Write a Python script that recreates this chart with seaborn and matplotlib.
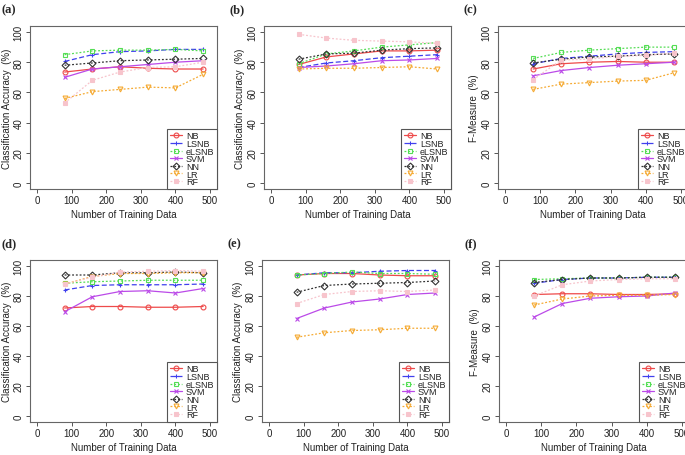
import numpy as np
import pandas as pd
import matplotlib
matplotlib.use("Agg")
import matplotlib.pyplot as plt
import seaborn as sns

train_sizes = [80, 160, 240, 320, 400, 480]
methods = ["NB", "LSNB", "eLSNB", "SVM", "NN", "LR", "RF"]
panel_labels = ["(a)", "(b)", "(c)", "(d)", "(e)", "(f)"]
y_labels = ["Classification Accuracy  (%)", "Classification Accuracy  (%)", "F-Measure  (%)",
            "Classification Accuracy  (%)", "Classification Accuracy  (%)", "F-Measure  (%)"]
x_label = "Number of Training Data"
x_ticks = [0, 100, 200, 300, 400, 500]
y_ticks = [0, 20, 40, 60, 80, 100]

# panel (a)
a_NB = [73.5, 75.5, 77, 76, 75.5, 75.5]
a_LSNB = [80.5, 85, 87, 87.5, 88.5, 88.5]
a_eLSNB = [85, 87.5, 88, 88, 88.5, 87.5]
a_SVM = [70, 75.5, 77, 78.5, 80, 81]
a_NN = [78, 79.5, 81, 81.5, 82, 82.5]
a_LR = [56, 60.5, 62, 63.5, 63, 72]
a_RF = [53, 68, 73.5, 76.5, 77, 80]
# panel (b)
b_NB = [78.5, 83.5, 85.5, 87.5, 87.5, 88]
b_LSNB = [76.5, 79.5, 81, 83, 84, 85]
b_eLSNB = [79, 85.5, 87.5, 90, 91.5, 93]
b_SVM = [76.5, 77.5, 79, 81, 81.5, 82.5]
b_NN = [82, 85.5, 86, 88, 89, 89.5]
b_LR = [75.5, 76, 76, 76.5, 77, 75.5]
b_RF = [98.5, 96, 94.5, 94, 93.5, 92.5]
# panel (c)
c_NB = [75.5, 79, 80, 80.5, 80, 80]
c_LSNB = [79, 82.5, 84, 85.5, 86.5, 87]
c_eLSNB = [82.5, 86.5, 88, 89, 90, 90]
c_SVM = [71, 74.5, 76.5, 78, 79, 80]
c_NN = [79.5, 82, 83.5, 84, 85, 85.5]
c_LR = [62, 65.5, 66.5, 67.5, 68, 73]
c_RF = [68.5, 81.5, 82, 84, 84.5, 86]
# panel (d)
d_NB = [72, 73, 73, 72.5, 72.5, 73]
d_LSNB = [84, 87, 87.5, 87.5, 87.5, 88]
d_eLSNB = [88.5, 89.5, 90, 90.5, 90.5, 90.5]
d_SVM = [69.5, 79.5, 83, 83.5, 82, 85]
d_NN = [94, 94, 95.5, 95.5, 96, 95.5]
d_LR = [88, 93, 95, 95, 95.5, 95.5]
d_RF = [88, 92.5, 96, 96.5, 97, 96.5]
# panel (e)
e_NB = [94, 95, 95, 94, 93.5, 93.5]
e_LSNB = [94, 95.5, 95.5, 96.5, 97, 97]
e_eLSNB = [94, 95, 96, 95, 95, 94.5]
e_SVM = [65, 72, 76, 78, 81, 82]
e_NN = [82.5, 87, 88, 88.5, 89, 90]
e_LR = [52.5, 55.5, 57, 57.5, 58.5, 58.5]
e_RF = [75, 81, 83, 83.5, 83, 84]
# panel (f)
f_NB = [81, 81.5, 81.5, 81, 81, 81.5]
f_LSNB = [88.5, 91, 92, 92, 92.5, 92.5]
f_eLSNB = [91, 91.5, 92, 92, 92.5, 92.5]
f_SVM = [66, 75, 78.5, 79.5, 80, 82]
f_NN = [89, 91, 92, 92, 92.5, 92.5]
f_LR = [74, 78, 80, 80.5, 80.5, 81]
f_RF = [80, 87.5, 90, 91, 91.5, 91.5]

panels = [
    [a_NB, a_LSNB, a_eLSNB, a_SVM, a_NN, a_LR, a_RF],
    [b_NB, b_LSNB, b_eLSNB, b_SVM, b_NN, b_LR, b_RF],
    [c_NB, c_LSNB, c_eLSNB, c_SVM, c_NN, c_LR, c_RF],
    [d_NB, d_LSNB, d_eLSNB, d_SVM, d_NN, d_LR, d_RF],
    [e_NB, e_LSNB, e_eLSNB, e_SVM, e_NN, e_LR, e_RF],
    [f_NB, f_LSNB, f_eLSNB, f_SVM, f_NN, f_LR, f_RF],
]

colors = ["#ee4a4a", "#4040ee", "#55dd55", "#bb4ae8", "#333333", "#f5aa33", "#f7c4cc"]
dashes = [(None, None), (4, 2), (1.5, 1.5), (None, None), (1.5, 1.5), (1.5, 1.5), (1.5, 1.5)]
markers = ["o", "+", "s", "x", "D", "v", "s"]
mfill = [False, True, False, True, False, False, True]

sns.set_style("white")
plt.rcParams["font.family"] = ["Liberation Sans", "DejaVu Sans"]

fig = plt.figure(figsize=(6.85, 4.56), dpi=100)
lefts = [[30, 264, 498], [30, 262, 499]]
tops = [27, 261]
bots = [190, 423]
widths = [187, 187, 190]
W, H = 685, 456
TXT = "#222222"

for i in range(6):
    r, c = divmod(i, 3)
    l = lefts[r][c]
    wpx = widths[c]
    ax = fig.add_axes([l / W, 1 - bots[r] / H, wpx / W, (bots[r] - tops[r]) / H])
    for j, m in enumerate(methods):
        df = pd.DataFrame({"x": train_sizes, "y": panels[i][j]})
        sns.lineplot(data=df, x="x", y="y", ax=ax, color=colors[j], marker=markers[j],
                     markersize=3.5, markeredgewidth=0.8,
                     markerfacecolor=(colors[j] if mfill[j] else "none"),
                     markeredgecolor=colors[j], linewidth=0.9, label=m)
        line = ax.lines[-1]
        if dashes[j][0] is not None:
            line.set_dashes(dashes[j])
    ax.set_xlim(-20, 520)
    ax.set_ylim(-4, 104)
    ax.set_xticks(x_ticks)
    ax.set_yticks(y_ticks)
    ax.set_xticklabels([str(t) for t in x_ticks], fontsize=7)
    ax.set_yticklabels([str(t) for t in y_ticks], fontsize=7, rotation=90, va="center")
    ax.tick_params(axis="both", which="both", direction="out", length=3, width=0.7,
                   color="#555555", labelcolor=TXT, pad=1.5,
                   bottom=True, left=True)
    for s in ax.spines.values():
        s.set_color("#666666")
        s.set_linewidth(0.8)
    ax.set_xlabel(x_label, fontsize=7, color=TXT)
    ax.set_ylabel(y_labels[i], fontsize=7, color=TXT)
    ax.yaxis.set_label_coords(-(l - (l - 23 if c == 0 else l - 24)) / wpx + 0.0, 0.5)
    ax.xaxis.set_label_coords(0.5, -25 / (bots[r] - tops[r]))
    ax.xaxis.label.set_va("center")
    ax.yaxis.label.set_va("center")
    leg = ax.legend(loc="lower right", bbox_to_anchor=(1.0, 0.0), borderaxespad=0,
                    prop={"size": 6.5}, frameon=True, fancybox=False, framealpha=1,
                    edgecolor="#555555", labelspacing=-0.15, handlelength=1.4,
                    handletextpad=0.4, borderpad=0.3)
    for t in leg.get_texts():
        t.set_color(TXT)
    leg.get_frame().set_linewidth(0.8)
    fig.text((l - 29) / W if c == 0 else (l - 34) / W, 1 - (tops[r] - 17) / H,
             panel_labels[i], fontsize=9, fontweight="bold",
             family=["Liberation Serif", "DejaVu Serif"], va="center", ha="left")

fig.savefig("out.png", dpi=100)
